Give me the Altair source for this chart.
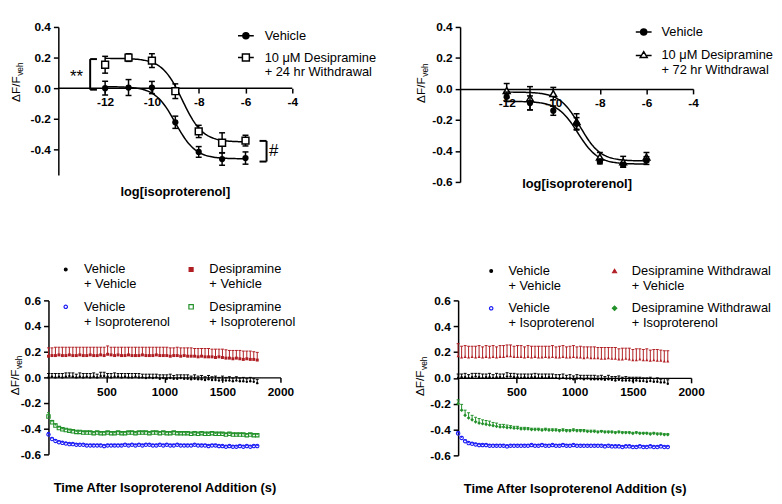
import altair as alt
import pandas as pd

FONT = "Liberation Sans"
RED = "#b01e23"
BLUE = "#1c1cf5"
GREEN = "#23912a"

# ---------------- dose-response panels ----------------
log_iso = [-12, -11, -10, -9, -8, -7, -6]

a_vehicle = [0.000, 0.004, 0.004, -0.223, -0.417, -0.464, -0.457]
a_vehicle_sem = [0.045, 0.052, 0.040, 0.040, 0.035, 0.040, 0.040]
a_desi24 = [0.153, 0.200, 0.180, -0.020, -0.283, -0.357, -0.343]
a_desi24_sem = [0.055, 0.025, 0.045, 0.048, 0.040, 0.065, 0.035]
# fitted curves: top, bottom, logEC50, hill slope
a_vehicle_fit = [0.010, -0.462, -9.00, 1.0]
a_desi24_fit = [0.195, -0.352, -8.70, 1.0]
a_labels = ["Vehicle", "10 μM Desipramine|+ 24 hr Withdrawal"]

b_vehicle = [-0.050, -0.090, -0.140, -0.225, -0.468, -0.490, -0.462]
b_vehicle_sem = [0.030, 0.045, 0.030, 0.040, 0.015, 0.015, 0.025]
b_desi72 = [-0.010, -0.060, -0.030, -0.210, -0.440, -0.470, -0.440]
b_desi72_sem = [0.045, 0.075, 0.040, 0.050, 0.030, 0.035, 0.030]
b_vehicle_fit = [-0.080, -0.485, -8.95, 1.0]
b_desi72_fit = [-0.020, -0.465, -8.85, 1.0]
b_labels = ["Vehicle", "10 μM Desipramine|+ 72 hr Withdrawal"]

# x-axis baseline extent of the dose-response panels
dose_axis_x = [-14, -4]

# significance brackets in panel A: x of vertical bar, x of arm end, y top, y bottom
sig_brackets = [[-12.64, -12.35, 0.19, -0.01], [-5.10, -5.40, -0.345, -0.48]]
sig_text = ["**", "#"]
sig_text_x = [-13.22, -4.80]
sig_text_y = [0.075, -0.41]

# ---------------- time-course panels ----------------
time_s = list(range(0, 1830, 30))

c_veh_veh = [0.000, 0.005, 0.000, 0.005, 0.000, 0.005, 0.010, 0.005, 0.000, 0.005,
             0.000, 0.005, 0.000, 0.005, 0.000, 0.010, 0.010, 0.005, 0.000, 0.005,
             0.005, 0.000, 0.005, 0.000, 0.000, 0.005, 0.000, 0.000, -0.005, 0.000,
             -0.005, 0.000, -0.010, -0.005, -0.010, -0.005, -0.010, -0.010, -0.005, -0.010,
             -0.010, -0.015, -0.010, -0.015, -0.015, -0.020, -0.015, -0.020, -0.020, -0.025,
             -0.020, -0.025, -0.025, -0.030, -0.025, -0.030, -0.030, -0.035, -0.030, -0.035,
             -0.045]
c_veh_veh_sem = [0.030, 0.025, 0.030, 0.025, 0.030, 0.030, 0.025, 0.030, 0.025, 0.030,
                 0.030, 0.025, 0.030, 0.030, 0.025, 0.030, 0.030, 0.025, 0.030, 0.030,
                 0.025, 0.030, 0.025, 0.030, 0.030, 0.025, 0.030, 0.025, 0.030, 0.025,
                 0.030, 0.025, 0.030, 0.025, 0.030, 0.030, 0.025, 0.030, 0.025, 0.030,
                 0.030, 0.025, 0.030, 0.025, 0.030, 0.025, 0.030, 0.025, 0.030, 0.025,
                 0.030, 0.025, 0.030, 0.025, 0.030, 0.025, 0.030, 0.025, 0.030, 0.025,
                 0.030]
c_desi_veh = [0.165, 0.170, 0.170, 0.175, 0.170, 0.170, 0.175, 0.170, 0.170, 0.175,
              0.170, 0.170, 0.175, 0.170, 0.170, 0.175, 0.170, 0.180, 0.175, 0.170,
              0.175, 0.170, 0.170, 0.175, 0.170, 0.170, 0.170, 0.175, 0.170, 0.170,
              0.170, 0.175, 0.170, 0.170, 0.170, 0.165, 0.170, 0.170, 0.165, 0.170,
              0.165, 0.165, 0.165, 0.160, 0.165, 0.160, 0.160, 0.160, 0.155, 0.160,
              0.155, 0.150, 0.150, 0.145, 0.150, 0.145, 0.140, 0.145, 0.140, 0.140,
              0.135]
c_desi_veh_sem = [0.065, 0.060, 0.065, 0.060, 0.065, 0.065, 0.060, 0.065, 0.065, 0.060,
                  0.065, 0.065, 0.060, 0.065, 0.065, 0.060, 0.065, 0.065, 0.060, 0.065,
                  0.060, 0.065, 0.065, 0.060, 0.065, 0.065, 0.065, 0.060, 0.065, 0.065,
                  0.065, 0.060, 0.065, 0.065, 0.065, 0.065, 0.060, 0.065, 0.065, 0.060,
                  0.065, 0.065, 0.060, 0.065, 0.060, 0.065, 0.065, 0.060, 0.065, 0.060,
                  0.065, 0.065, 0.060, 0.065, 0.060, 0.065, 0.065, 0.060, 0.065, 0.060,
                  0.060]
c_veh_iso = [-0.445, -0.480, -0.495, -0.505, -0.510, -0.515, -0.520, -0.520, -0.525, -0.525,
             -0.525, -0.530, -0.530, -0.530, -0.530, -0.530, -0.535, -0.530, -0.530, -0.530,
             -0.530, -0.530, -0.525, -0.530, -0.525, -0.530, -0.525, -0.530, -0.525, -0.525,
             -0.530, -0.530, -0.525, -0.530, -0.525, -0.530, -0.530, -0.525, -0.530, -0.530,
             -0.530, -0.530, -0.525, -0.530, -0.530, -0.530, -0.535, -0.530, -0.530, -0.535,
             -0.535, -0.540, -0.535, -0.540, -0.540, -0.535, -0.540, -0.535, -0.540, -0.535,
             -0.535]
c_veh_iso_sem = [0.015, 0.012, 0.010, 0.010, 0.008, 0.008, 0.008, 0.008, 0.008, 0.008,
                 0.008, 0.008, 0.008, 0.008, 0.008, 0.008, 0.008, 0.008, 0.008, 0.008,
                 0.008, 0.008, 0.008, 0.008, 0.008, 0.008, 0.008, 0.008, 0.008, 0.008,
                 0.008, 0.008, 0.008, 0.008, 0.008, 0.008, 0.008, 0.008, 0.008, 0.008,
                 0.008, 0.008, 0.008, 0.008, 0.008, 0.008, 0.008, 0.008, 0.008, 0.008,
                 0.008, 0.008, 0.008, 0.008, 0.008, 0.008, 0.008, 0.008, 0.008, 0.008,
                 0.008]
c_desi_iso = [-0.305, -0.350, -0.375, -0.395, -0.405, -0.410, -0.415, -0.420, -0.425, -0.425,
              -0.430, -0.430, -0.430, -0.435, -0.430, -0.435, -0.435, -0.430, -0.435, -0.435,
              -0.430, -0.435, -0.435, -0.430, -0.430, -0.435, -0.430, -0.430, -0.430, -0.435,
              -0.430, -0.430, -0.435, -0.430, -0.435, -0.435, -0.430, -0.435, -0.435, -0.435,
              -0.435, -0.440, -0.435, -0.440, -0.435, -0.440, -0.440, -0.435, -0.440, -0.440,
              -0.440, -0.445, -0.440, -0.445, -0.445, -0.445, -0.445, -0.450, -0.445, -0.450,
              -0.450]
c_desi_iso_sem = [0.030, 0.015, 0.012, 0.010, 0.010, 0.008, 0.008, 0.008, 0.008, 0.008,
                  0.008, 0.008, 0.008, 0.008, 0.008, 0.008, 0.008, 0.008, 0.008, 0.008,
                  0.008, 0.008, 0.008, 0.008, 0.008, 0.008, 0.008, 0.008, 0.008, 0.008,
                  0.008, 0.008, 0.008, 0.008, 0.008, 0.008, 0.008, 0.008, 0.008, 0.008,
                  0.008, 0.008, 0.008, 0.008, 0.008, 0.008, 0.008, 0.008, 0.008, 0.008,
                  0.008, 0.008, 0.008, 0.008, 0.008, 0.008, 0.008, 0.008, 0.008, 0.008,
                  0.008]
# legend order (column-major in a 2-column legend)
c_labels = ["Vehicle|+ Vehicle", "Vehicle|+ Isoproterenol",
            "Desipramine|+ Vehicle", "Desipramine|+ Isoproterenol"]

d_veh_veh = [0.000, 0.005, 0.005, 0.000, 0.005, 0.010, 0.005, 0.000, 0.005, 0.005,
             0.000, 0.005, 0.005, 0.000, 0.010, 0.010, 0.005, 0.005, 0.000, 0.005,
             0.000, 0.005, 0.005, 0.000, 0.005, 0.000, 0.005, 0.000, 0.000, -0.005,
             0.000, -0.005, -0.005, -0.010, -0.005, -0.005, -0.010, -0.005, -0.010, -0.010,
             -0.010, -0.010, -0.015, -0.010, -0.015, -0.020, -0.015, -0.020, -0.020, -0.020,
             -0.025, -0.020, -0.025, -0.025, -0.030, -0.025, -0.030, -0.030, -0.035, -0.035,
             -0.045]
d_veh_veh_sem = [0.030, 0.025, 0.030, 0.025, 0.030, 0.025, 0.030, 0.030, 0.025, 0.030,
                 0.025, 0.030, 0.025, 0.030, 0.030, 0.025, 0.030, 0.025, 0.030, 0.025,
                 0.030, 0.025, 0.030, 0.030, 0.025, 0.030, 0.025, 0.030, 0.025, 0.030,
                 0.030, 0.025, 0.030, 0.025, 0.030, 0.025, 0.030, 0.025, 0.030, 0.030,
                 0.025, 0.030, 0.025, 0.030, 0.025, 0.030, 0.030, 0.025, 0.030, 0.025,
                 0.030, 0.025, 0.030, 0.025, 0.030, 0.030, 0.025, 0.030, 0.025, 0.030,
                 0.030]
d_desi_veh = [0.170, 0.160, 0.165, 0.160, 0.165, 0.160, 0.165, 0.160, 0.165, 0.160,
              0.165, 0.160, 0.165, 0.165, 0.170, 0.170, 0.165, 0.165, 0.165, 0.160,
              0.165, 0.160, 0.165, 0.160, 0.160, 0.165, 0.160, 0.165, 0.160, 0.160,
              0.165, 0.160, 0.160, 0.165, 0.160, 0.160, 0.155, 0.160, 0.155, 0.155,
              0.155, 0.150, 0.150, 0.155, 0.150, 0.150, 0.145, 0.145, 0.150, 0.145,
              0.140, 0.140, 0.145, 0.140, 0.140, 0.135, 0.140, 0.135, 0.135, 0.130,
              0.130]
d_desi_veh_sem = [0.095, 0.085, 0.085, 0.085, 0.080, 0.085, 0.085, 0.080, 0.085, 0.085,
                  0.085, 0.080, 0.085, 0.085, 0.085, 0.085, 0.080, 0.085, 0.085, 0.080,
                  0.085, 0.085, 0.080, 0.085, 0.085, 0.080, 0.085, 0.085, 0.080, 0.085,
                  0.085, 0.080, 0.085, 0.085, 0.080, 0.085, 0.085, 0.080, 0.085, 0.085,
                  0.080, 0.085, 0.085, 0.080, 0.085, 0.085, 0.080, 0.085, 0.080, 0.085,
                  0.080, 0.085, 0.080, 0.080, 0.085, 0.080, 0.080, 0.085, 0.080, 0.080,
                  0.080]
d_veh_iso = [-0.430, -0.465, -0.490, -0.505, -0.510, -0.515, -0.520, -0.520, -0.520, -0.525,
             -0.525, -0.525, -0.525, -0.525, -0.530, -0.525, -0.525, -0.525, -0.525, -0.525,
             -0.525, -0.520, -0.525, -0.525, -0.520, -0.525, -0.525, -0.520, -0.525, -0.525,
             -0.520, -0.525, -0.525, -0.520, -0.525, -0.525, -0.525, -0.525, -0.525, -0.525,
             -0.525, -0.525, -0.530, -0.525, -0.530, -0.530, -0.530, -0.535, -0.530, -0.530,
             -0.535, -0.535, -0.530, -0.535, -0.535, -0.530, -0.535, -0.535, -0.530, -0.535,
             -0.535]
d_veh_iso_sem = [0.015, 0.012, 0.010, 0.010, 0.008, 0.008, 0.008, 0.008, 0.008, 0.008,
                 0.008, 0.008, 0.008, 0.008, 0.008, 0.008, 0.008, 0.008, 0.008, 0.008,
                 0.008, 0.008, 0.008, 0.008, 0.008, 0.008, 0.008, 0.008, 0.008, 0.008,
                 0.008, 0.008, 0.008, 0.008, 0.008, 0.008, 0.008, 0.008, 0.008, 0.008,
                 0.008, 0.008, 0.008, 0.008, 0.008, 0.008, 0.008, 0.008, 0.008, 0.008,
                 0.008, 0.008, 0.008, 0.008, 0.008, 0.008, 0.008, 0.008, 0.008, 0.008,
                 0.008]
d_desi_iso = [-0.200, -0.250, -0.290, -0.310, -0.325, -0.340, -0.350, -0.355, -0.360, -0.365,
              -0.370, -0.375, -0.380, -0.380, -0.385, -0.385, -0.390, -0.390, -0.395, -0.395,
              -0.395, -0.400, -0.400, -0.400, -0.405, -0.400, -0.405, -0.405, -0.405, -0.410,
              -0.405, -0.410, -0.410, -0.405, -0.410, -0.410, -0.410, -0.415, -0.415, -0.415,
              -0.420, -0.415, -0.420, -0.420, -0.420, -0.425, -0.420, -0.425, -0.425, -0.425,
              -0.430, -0.425, -0.430, -0.430, -0.430, -0.435, -0.430, -0.435, -0.435, -0.440,
              -0.440]
d_desi_iso_sem = [0.030, 0.045, 0.040, 0.040, 0.035, 0.035, 0.035, 0.030, 0.030, 0.030,
                  0.025, 0.025, 0.020, 0.020, 0.020, 0.015, 0.015, 0.015, 0.012, 0.012,
                  0.010, 0.010, 0.010, 0.010, 0.010, 0.010, 0.010, 0.010, 0.010, 0.010,
                  0.010, 0.010, 0.010, 0.010, 0.010, 0.010, 0.010, 0.010, 0.010, 0.010,
                  0.008, 0.008, 0.008, 0.008, 0.008, 0.008, 0.008, 0.008, 0.008, 0.008,
                  0.008, 0.008, 0.008, 0.008, 0.008, 0.008, 0.008, 0.008, 0.008, 0.008,
                  0.008]
d_labels = ["Vehicle|+ Vehicle", "Vehicle|+ Isoproterenol",
            "Desipramine Withdrawal|+ Vehicle", "Desipramine Withdrawal|+ Isoproterenol"]

INDEP = dict(shape="independent", fill="independent", stroke="independent", size="independent")


# ---------------- helpers ----------------
def num_fmt(fmt):
    return (f"datum.value < 0 ? '-' + format(-datum.value, '{fmt}') "
            f": format(datum.value, '{fmt}')")


def axes(H, xdom, xvals, xtitle, title_y, ydom, yvals, yoff=0, title_x=None, xdomain_line=True):
    off = -H * (0 - ydom[0]) / (ydom[1] - ydom[0])
    xs = alt.Scale(domain=xdom, nice=False, zero=False)
    ys = alt.Scale(domain=ydom, nice=False, zero=False)
    xkw = dict(values=xvals, labelExpr=num_fmt("d"), offset=off, title=xtitle,
               titleY=title_y, titleBaseline="middle", labelPadding=4, domain=xdomain_line)
    if title_x is not None:
        xkw["titleX"] = title_x
    xax = alt.Axis(**xkw)
    yax = alt.Axis(values=yvals, labelExpr=num_fmt(".1f"), title=None, labelPadding=3,
                   offset=yoff)
    return xs, ys, xax, yax


def series(xv, mean, sem, ctx, marker, color, ew, cap, two_sided):
    xs, ys, xax, yax = ctx
    df = pd.DataFrame({"x": xv, "m": mean, "e": sem})
    base = alt.Chart(df).transform_calculate(
        lo="datum.m - datum.e" if two_sided else "datum.m", hi="datum.m + datum.e")
    X = alt.X("x:Q", scale=xs, axis=xax)
    out = [
        base.mark_rule(color=color, strokeWidth=ew).encode(
            x=X, y=alt.Y("lo:Q", scale=ys, axis=yax), y2="hi:Q"),
        base.mark_tick(orient="horizontal", size=cap, thickness=ew, color=color, opacity=1).encode(
            x=X, y=alt.Y("hi:Q", scale=ys, axis=yax)),
    ]
    if two_sided:
        out.append(base.mark_tick(orient="horizontal", size=cap, thickness=ew, color=color,
                                  opacity=1).encode(x=X, y=alt.Y("lo:Q", scale=ys, axis=yax)))
    out.append(base.mark_point(opacity=1, **marker).encode(
        x=X, y=alt.Y("m:Q", scale=ys, axis=yax)))
    return out


def curve(fit, ctx):
    xs, ys, xax, yax = ctx
    top, bot, ec50, hill = fit
    expr = f"({bot}) + (({top}) - ({bot})) / (1 + pow(10, (datum.x - ({ec50})) * {hill}))"
    return alt.Chart(alt.sequence(-12, -5.99, 0.05, as_="x")).transform_calculate(
        y=expr).mark_line(color="black", strokeWidth=1.5).encode(
        x=alt.X("x:Q", scale=xs, axis=xax), y=alt.Y("y:Q", scale=ys, axis=yax))


def baseline(ctx):
    xs, ys, xax, yax = ctx
    df = pd.DataFrame({"x1": [dose_axis_x[0]], "x2": [dose_axis_x[1]], "y": [0.0]})
    return alt.Chart(df).mark_rule(color="black", strokeWidth=1.5).encode(
        x=alt.X("x1:Q", scale=xs, axis=xax), x2="x2:Q", y=alt.Y("y:Q", scale=ys, axis=yax))


def ytitle(xm, xs_, ya):
    one = pd.DataFrame({"k": [0]})
    main = alt.Chart(one).mark_text(text="ΔF/F", angle=270, align="right", baseline="middle",
                                    font=FONT, fontSize=12, color="black").encode(
        x=alt.value(xm), y=alt.value(ya))
    sub = alt.Chart(one).mark_text(text="veh", angle=270, align="left", baseline="middle",
                                   font=FONT, fontSize=8.5, color="black").encode(
        x=alt.value(xs_), y=alt.value(ya - 0.5))
    return [main, sub]


def anchor(x1, x2, y1, y2):
    return alt.Chart(pd.DataFrame({"k": [0]})).mark_rect(opacity=0).encode(
        x=alt.value(x1), x2=alt.value(x2), y=alt.value(y1), y2=alt.value(y2))


def line_legend(field, names, paths, fills, lx, ly, lo, rp):
    leg = alt.Legend(title=None, orient="none", legendX=lx, legendY=ly, direction="vertical",
                     labelExpr="split(datum.label, '|')", labelFont=FONT, labelFontSize=13,
                     labelColor="black", labelOffset=lo, rowPadding=rp, padding=0,
                     symbolSize=256, symbolStrokeWidth=1.5, symbolOpacity=1, labelLimit=220)
    df = pd.DataFrame({field: names})
    return alt.Chart(df).mark_point(opacity=0, strokeWidth=1.5).encode(
        shape=alt.Shape(f"{field}:N", scale=alt.Scale(domain=names, range=paths), legend=leg),
        fill=alt.Fill(f"{field}:N", scale=alt.Scale(domain=names, range=fills), legend=leg),
        stroke=alt.Stroke(f"{field}:N", scale=alt.Scale(domain=names, range=["black", "black"]),
                          legend=leg))


def marker_legend(field, names, shapes, fills, strokes, sizes, lx, ly, lo, cp):
    leg = alt.Legend(title=None, orient="none", legendX=lx, legendY=ly, columns=2,
                     labelExpr="split(datum.label, '|')", labelFont=FONT, labelFontSize=13,
                     labelColor="black", labelOffset=lo, columnPadding=cp, rowPadding=9,
                     padding=0, symbolOpacity=1, symbolStrokeWidth=1.2, labelLimit=220)
    df = pd.DataFrame({field: names})
    return alt.Chart(df).mark_point(opacity=0).encode(
        shape=alt.Shape(f"{field}:N", scale=alt.Scale(domain=names, range=shapes), legend=leg),
        fill=alt.Fill(f"{field}:N", scale=alt.Scale(domain=names, range=fills), legend=leg),
        stroke=alt.Stroke(f"{field}:N", scale=alt.Scale(domain=names, range=strokes), legend=leg),
        size=alt.Size(f"{field}:N", scale=alt.Scale(domain=names, range=sizes), legend=leg))


P_CIRCLE = "M-1,0H-0.38M0.38,0H1M-0.38,0A0.38,0.38,0,1,1,0.38,0A0.38,0.38,0,1,1,-0.38,0Z"
P_SQUARE = "M-1,0H-0.44M0.44,0H1M-0.44,-0.44H0.44V0.44H-0.44Z"
P_TRI = "M-1,0.05H-0.27M0.27,0.05H1M0,-0.44L0.44,0.3H-0.44Z"

CIRC = dict(shape="circle", size=40, filled=True, color="black")
SQ_OPEN = dict(shape="square", size=48, fill="white", stroke="black", strokeWidth=1.5)
TRI_OPEN = dict(shape="triangle-up", size=48, fill="white", stroke="black", strokeWidth=1.5)

# ---------------- panel A (top-left) ----------------
# plot area starts 10 px left of the y axis so that it lines up with panel C
W, H, YD = 247, 150, [-0.568, 0.4]
ctx = axes(H, [-14.422, -4], [-12, -10, -8, -6, -4], "log[isoproterenol]", 105,
           YD, [-0.4, -0.2, 0.0, 0.2, 0.4], yoff=-10, title_x=128, xdomain_line=False)
xs, ys, xax, yax = ctx
br = pd.DataFrame(sig_brackets, columns=["xv", "xe", "yt", "yb"])
bx = alt.X("xv:Q", scale=xs, axis=xax)
brackets = [
    alt.Chart(br).mark_rule(color="black", strokeWidth=2).encode(
        x=bx, y=alt.Y("yt:Q", scale=ys, axis=yax), y2="yb:Q"),
    alt.Chart(br).mark_rule(color="black", strokeWidth=2).encode(
        x=bx, x2="xe:Q", y=alt.Y("yt:Q", scale=ys, axis=yax)),
    alt.Chart(br).mark_rule(color="black", strokeWidth=2).encode(
        x=bx, x2="xe:Q", y=alt.Y("yb:Q", scale=ys, axis=yax)),
    alt.Chart(pd.DataFrame({"t": sig_text, "x": sig_text_x, "y": sig_text_y})).mark_text(
        font=FONT, fontSize=17, color="black", baseline="middle").encode(
        x=alt.X("x:Q", scale=xs, axis=xax), y=alt.Y("y:Q", scale=ys, axis=yax), text="t:N"),
]
panel_a = alt.layer(
    anchor(-40, 342, -15, 188),
    baseline(ctx),
    curve(a_vehicle_fit, ctx), curve(a_desi24_fit, ctx),
    *series(log_iso, a_vehicle, a_vehicle_sem, ctx, CIRC, "black", 1.5, 6, True),
    *series(log_iso, a_desi24, a_desi24_sem, ctx, SQ_OPEN, "black", 1.5, 6, True),
    *brackets,
    *ytitle(-33, -29, 50),
    line_legend("sa", a_labels, [P_CIRCLE, P_SQUARE], ["black", "white"], 191, 0, 10, 6),
).properties(width=W, height=H)

# ---------------- panel B (top-right) ----------------
W, H, YD = 236, 157, [-0.6, 0.4]
ctx = axes(H, [-14, -4], [-12, -10, -8, -6, -4], "log[isoproterenol]", 96,
           YD, [-0.6, -0.4, -0.2, 0.0, 0.2, 0.4])
panel_b = alt.layer(
    anchor(-73, 311, -14, 188),
    curve(b_vehicle_fit, ctx), curve(b_desi72_fit, ctx),
    *series(log_iso, b_desi72, b_desi72_sem, ctx, TRI_OPEN, "black", 1.5, 6, True),
    *series(log_iso, b_vehicle, b_vehicle_sem, ctx, CIRC, "black", 1.5, 6, True),
    *ytitle(-40, -36, 51),
    line_legend("sb", b_labels, [P_CIRCLE, P_TRI], ["black", "white"], 177, -4, 9, 7.5),
).properties(width=W, height=H)

# ---------------- panel C (bottom-left) ----------------
TX = [500, 1000, 1500, 2000]
TY = [-0.6, -0.4, -0.2, 0.0, 0.2, 0.4, 0.6]
TTL = "Time After Isoproterenol Addition (s)"
W, H, YD = 235, 156, [-0.6, 0.6]
ctx = axes(H, [0, 2000], TX, TTL, 112, YD, TY)
panel_c = alt.layer(
    anchor(-40, 342, -87, 193),
    *series(time_s, c_desi_veh, c_desi_veh_sem, ctx,
            dict(shape="square", size=9, filled=True, color=RED), RED, 1, 3, False),
    *series(time_s, c_veh_veh, c_veh_veh_sem, ctx,
            dict(shape="circle", size=6, filled=True, color="black"), "black", 1, 3, False),
    *series(time_s, c_desi_iso, c_desi_iso_sem, ctx,
            dict(shape="square", size=12, filled=False, color=GREEN, strokeWidth=1.1),
            GREEN, 1, 3, False),
    *series(time_s, c_veh_iso, c_veh_iso_sem, ctx,
            dict(shape="circle", size=12, filled=False, color=BLUE, strokeWidth=1.1),
            BLUE, 1, 3, False),
    *ytitle(-34, -30, 70),
    marker_legend("sc", c_labels, ["circle", "circle", "square", "square"],
                  ["black", "white", RED, "white"], ["black", BLUE, RED, GREEN],
                  [8, 20, 12, 20], 11, -38, 12, 14),
).properties(width=W, height=H)

# ---------------- panel D (bottom-right) ----------------
W, H, YD = 236, 157, [-0.6, 0.6]
ctx = axes(H, [0, 2000], TX, TTL, 112, YD, TY)
panel_d = alt.layer(
    anchor(-71, 313, -87, 193),
    *series(time_s, d_desi_veh, d_desi_veh_sem, ctx,
            dict(shape="triangle-up", size=10, filled=True, color=RED), RED, 1, 3, False),
    *series(time_s, d_veh_veh, d_veh_veh_sem, ctx,
            dict(shape="circle", size=6, filled=True, color="black"), "black", 1, 3, False),
    *series(time_s, d_desi_iso, d_desi_iso_sem, ctx,
            dict(shape="diamond", size=14, filled=True, color=GREEN), GREEN, 1, 3, False),
    *series(time_s, d_veh_iso, d_veh_iso_sem, ctx,
            dict(shape="circle", size=12, filled=False, color=BLUE, strokeWidth=1.1),
            BLUE, 1, 3, False),
    *ytitle(-39, -35, 71),
    marker_legend("sd", d_labels, ["circle", "circle", "triangle-up", "diamond"],
                  ["black", "white", RED, GREEN], ["black", BLUE, RED, GREEN],
                  [8, 20, 14, 16], 27, -36.5, 11, 13),
).properties(width=W, height=H)

top_row = alt.hconcat(panel_a, panel_b, spacing=0).resolve_scale(**INDEP).resolve_legend(**INDEP)
bottom_row = alt.hconcat(panel_c, panel_d, spacing=0).resolve_scale(**INDEP).resolve_legend(**INDEP)

chart = alt.vconcat(top_row, bottom_row, spacing=0).resolve_scale(**INDEP).resolve_legend(
    **INDEP
).properties(padding=0, background="white").configure_view(
    stroke="transparent"
).configure_axis(
    labelFont=FONT, labelFontSize=12, labelFontWeight="bold", labelColor="black",
    titleFont=FONT, titleFontSize=13, titleFontWeight="bold", titleColor="black",
    domainColor="black", domainWidth=1.5, tickColor="black", tickWidth=1.5, tickSize=5,
    grid=False, labelFlush=False,
)

chart.save("out.html", embed_options={"renderer": "svg", "actions": False})
